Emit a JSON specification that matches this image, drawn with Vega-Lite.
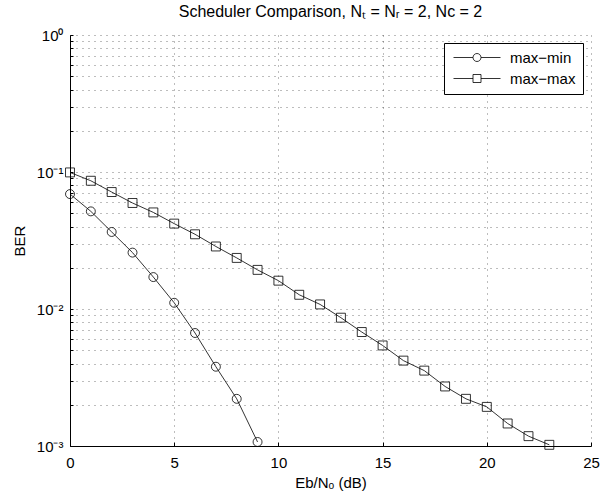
{
  "$schema": "https://vega.github.io/schema/vega-lite/v6.json",
  "width": 521,
  "height": 411,
  "autosize": {"type": "none"},
  "padding": {"left": 70, "top": 35, "right": 9, "bottom": 50},
  "background": "white",
  "title": {
    "text": "Scheduler Comparison, Nₜ = Nᵣ = 2, Nc = 2",
    "font": "Liberation Sans",
    "fontSize": 16,
    "fontWeight": "normal",
    "color": "black",
    "offset": 8,
    "anchor": "middle"
  },
  "data": {
    "values": [
      {"series": "max−min", "snr": 0, "ber": 0.069},
      {"series": "max−min", "snr": 1, "ber": 0.0516},
      {"series": "max−min", "snr": 2, "ber": 0.0365},
      {"series": "max−min", "snr": 3, "ber": 0.0258},
      {"series": "max−min", "snr": 4, "ber": 0.0171},
      {"series": "max−min", "snr": 5, "ber": 0.0111},
      {"series": "max−min", "snr": 6, "ber": 0.00668},
      {"series": "max−min", "snr": 7, "ber": 0.00379},
      {"series": "max−min", "snr": 8, "ber": 0.00221},
      {"series": "max−min", "snr": 9, "ber": 0.00107},
      {"series": "max−max", "snr": 0, "ber": 0.0993},
      {"series": "max−max", "snr": 1, "ber": 0.0863},
      {"series": "max−max", "snr": 2, "ber": 0.0714},
      {"series": "max−max", "snr": 3, "ber": 0.0594},
      {"series": "max−max", "snr": 4, "ber": 0.0507},
      {"series": "max−max", "snr": 5, "ber": 0.042},
      {"series": "max−max", "snr": 6, "ber": 0.0351},
      {"series": "max−max", "snr": 7, "ber": 0.0286},
      {"series": "max−max", "snr": 8, "ber": 0.0236},
      {"series": "max−max", "snr": 9, "ber": 0.0193},
      {"series": "max−max", "snr": 10, "ber": 0.0161},
      {"series": "max−max", "snr": 11, "ber": 0.0127},
      {"series": "max−max", "snr": 12, "ber": 0.0108},
      {"series": "max−max", "snr": 13, "ber": 0.00864},
      {"series": "max−max", "snr": 14, "ber": 0.00679},
      {"series": "max−max", "snr": 15, "ber": 0.00542},
      {"series": "max−max", "snr": 16, "ber": 0.0042},
      {"series": "max−max", "snr": 17, "ber": 0.00355},
      {"series": "max−max", "snr": 18, "ber": 0.00272},
      {"series": "max−max", "snr": 19, "ber": 0.00221},
      {"series": "max−max", "snr": 20, "ber": 0.00193},
      {"series": "max−max", "snr": 21, "ber": 0.00146},
      {"series": "max−max", "snr": 22, "ber": 0.00118},
      {"series": "max−max", "snr": 23, "ber": 0.00102}
    ]
  },
  "encoding": {
    "x": {
      "field": "snr",
      "type": "quantitative",
      "scale": {"domain": [0, 25], "nice": false, "zero": false},
      "axis": {
        "title": "Eb/Nₒ (dB)",
        "values": [0, 5, 10, 15, 20, 25],
        "grid": true,
        "tickSize": -4,
        "labelPadding": 13,
        "titlePadding": 5
      }
    },
    "y": {
      "field": "ber",
      "type": "quantitative",
      "scale": {"type": "log", "domain": [0.001, 1], "nice": false},
      "axis": {
        "title": "BER",
        "values": [0.001, 0.002, 0.003, 0.004, 0.005, 0.006, 0.007, 0.008, 0.009, 0.01, 0.02, 0.03, 0.04, 0.05, 0.06, 0.07, 0.08, 0.09, 0.1, 0.2, 0.3, 0.4, 0.5, 0.6, 0.7, 0.8, 0.9, 1],
        "labelExpr": "datum.value == 1 ? '10⁰' : datum.value == 0.1 ? '10⁻¹' : datum.value == 0.01 ? '10⁻²' : datum.value == 0.001 ? '10⁻³' : ''",
        "grid": true,
        "tickSize": -3,
        "labelPadding": 10,
        "titlePadding": 9,
        "labelOverlap": false
      }
    }
  },
  "layer": [
    {
      "mark": {"type": "line", "color": "black", "strokeWidth": 0.8},
      "encoding": {"detail": {"field": "series"}}
    },
    {
      "mark": {"type": "point", "filled": false, "color": "black", "size": 80, "strokeWidth": 0.8, "opacity": 1},
      "encoding": {
        "shape": {
          "field": "series",
          "type": "nominal",
          "scale": {"domain": ["max−min", "max−max"], "range": ["circle", "square"]},
          "legend": null
        }
      }
    },
    {
      "transform": [{"filter": "datum.snr < -100"}],
      "mark": {"type": "point", "filled": false, "color": "black", "strokeWidth": 0.8, "opacity": 1},
      "encoding": {
        "shape": {
          "field": "series",
          "type": "nominal",
          "scale": {
            "domain": ["max−min", "max−max"],
            "range": [
              "M-1,0H2.9M4.5,0H8.4M4.5,0A0.8,0.8 0 1,1 2.9,0A0.8,0.8 0 1,1 4.5,0",
              "M-1,0H2.9M4.5,0H8.4M2.9,-0.8H4.5V0.8H2.9Z"
            ]
          },
          "legend": {
            "title": null,
            "orient": "top-right",
            "offset": 8,
            "strokeColor": "black",
            "fillColor": "white",
            "padding": 7,
            "cornerRadius": 0,
            "symbolSize": 100,
            "symbolStrokeColor": "black",
            "symbolFillColor": "transparent",
            "symbolStrokeWidth": 0.8,
            "symbolOpacity": 1,
            "labelFont": "Liberation Sans",
            "labelFontSize": 15,
            "labelColor": "black",
            "labelOffset": 44,
            "rowPadding": 5
          }
        }
      }
    }
  ],
  "resolve": {"scale": {"shape": "independent"}, "legend": {"shape": "independent"}},
  "config": {
    "view": {"stroke": null},
    "axis": {
      "domainColor": "black",
      "domainWidth": 1,
      "tickColor": "black",
      "tickWidth": 1,
      "gridColor": "#222",
      "gridDash": [1, 5],
      "gridWidth": 1,
      "gridOpacity": 0.6,
      "labelFont": "Liberation Sans",
      "labelFontSize": 15,
      "labelColor": "black",
      "labelFlush": false,
      "titleFont": "Liberation Sans",
      "titleFontSize": 15,
      "titleFontWeight": "normal",
      "titleColor": "black"
    }
  }
}
